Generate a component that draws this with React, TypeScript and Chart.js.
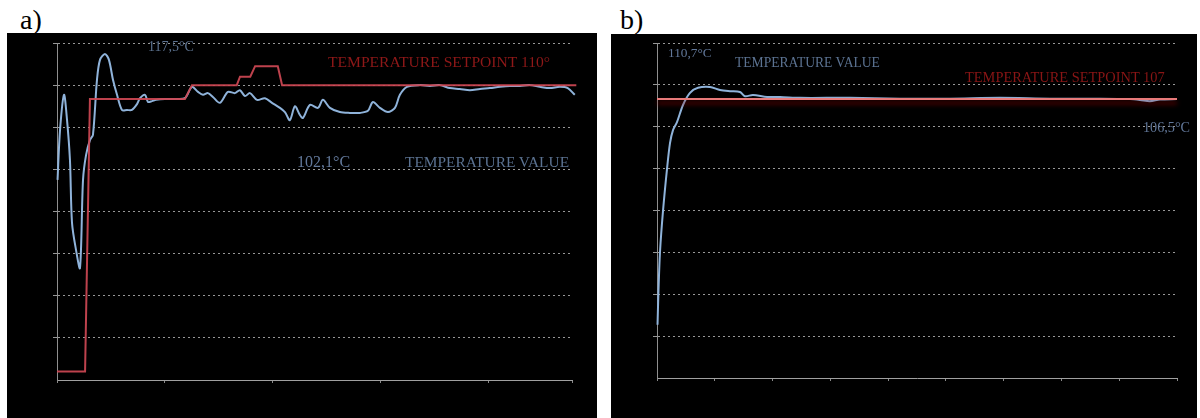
import React, { useEffect, useRef } from "react";
import { Chart, registerables } from "chart.js";

Chart.register(...registerables);

// ---------- Panel a) ----------
const aSetpointTime = [0, 26, 30.5, 118.5, 125, 166.5, 169.5, 179, 183.5, 204.5, 208.5, 481];
const aSetpointTemp = [42, 42, 106.7, 106.7, 110, 110, 112, 112, 114.5, 114.5, 110, 110];

const aValueTime = [
  0.5, 2.8, 6.5, 9.3, 12, 13.9, 17.6, 21.3, 24.1, 26.9, 30.6, 33.3, 37, 39.8, 44.4, 48.1, 51.9, 55.6,
  60.2, 64.8, 69.4, 74.1, 76.9, 81.5, 84.3, 88, 91.7, 100, 109.3, 118.5, 125, 130.6, 135.2, 139.8,
  144.4, 150.9, 158.3, 164.8, 169.4, 174.1, 178.7, 185.2, 192.6, 199.1, 206.5, 211.1, 215.7, 220.4,
  225, 227.8, 234.3, 241.7, 246.3, 252.8, 262, 271.3, 280.6, 288, 292.6, 299.1, 306.5, 313, 317.6,
  324.1, 336.1, 345.4, 354.6, 363.9, 373.1, 382.4, 391.7, 400.9, 410.2, 419.4, 428.7, 438, 447.2,
  456.5, 465.7, 473.1, 479.6,
];
const aValueTemp = [
  87.5, 99.3, 107.7, 101.7, 92.2, 77.3, 70.9, 66.6, 87.5, 93.4, 97, 98.2, 111.2, 116, 117.4, 116, 111.2, 107.7,
  104.1, 104.1, 104.1, 105.5, 106.9, 107.7, 106, 106.2, 106.5, 106.7, 106.7, 106.9, 109.6, 108.4, 107.7, 108.1,
  107.2, 105.8, 108.4, 108.1, 108.8, 107.4, 108.1, 106.5, 106.9, 105.8, 104.6, 103.6, 101.7, 105,
  102.9, 102.2, 105.3, 104.6, 106.5, 104.6, 103.6, 103.4, 103.4, 103.9, 106, 104.6, 103.6, 104.6, 107.7,
  109.6, 110, 109.8, 110, 109.3, 109.1, 108.8, 109.1, 109.3, 109.6, 109.8, 109.8, 110, 109.6,
  109.3, 109.6, 109.3, 107.7,
];

// ---------- Panel b) ----------
const bSetpointTime = [0, 900];
const bSetpointTemp = [106.6, 106.6];

const bValueTime = [
  0.9, 2.6, 5.2, 10.4, 17.3, 22.5, 27.7, 34.6, 45, 57.1, 71, 91.7, 109, 126.3, 143.6, 152.3, 166.1,
  190.4, 212.9, 247.5, 334, 420.6, 507, 593.6, 680.2, 766.7, 818.6, 836, 853.2, 870.5, 900,
];
const bValueTemp = [
  52.7, 61, 70.1, 79.9, 89.9, 96.1, 99.2, 101.1, 105.2, 108.1, 109.3, 109.5, 108.8, 108.5, 108.3, 107.3, 107.6,
  107.1, 107.1, 106.9, 106.9, 106.7, 106.7, 106.9, 106.7, 106.7, 106.6, 106.4, 106.1, 106.5, 106.6,
];

const yMin = 40;
const yMax = 120;
const yStep = 10;

const glowPlugin = {
  id: "glow",
  beforeDatasetDraw(chart: any, args: any) {
    const ds = chart.data.datasets[args.index];
    if (ds.glow) {
      const c = chart.ctx;
      c.save();
      c.shadowColor = ds.glow;
      c.shadowBlur = 5;
      c.shadowOffsetY = 4;
    }
  },
  afterDatasetDraw(chart: any, args: any) {
    const ds = chart.data.datasets[args.index];
    if (ds.glow) chart.ctx.restore();
  },
};

type Series = { x: number[]; y: number[]; color: string; width: number; tension: number; glow?: string };

function Scope(props: {
  width: number;
  height: number;
  padding: { left: number; right: number; top: number; bottom: number };
  xMax: number;
  xStep: number;
  series: Series[];
}) {
  const ref = useRef<HTMLCanvasElement>(null);
  useEffect(() => {
    const chart = new Chart(ref.current!, {
      type: "line",
      data: {
        datasets: props.series.map((s) => ({
          data: s.x.map((x, i) => ({ x, y: s.y[i] })),
          borderColor: s.color,
          borderWidth: s.width,
          pointRadius: 0,
          tension: s.tension,
          fill: false,
          clip: false,
          glow: s.glow,
        })) as any,
      },
      options: {
        animation: false,
        responsive: false,
        maintainAspectRatio: false,
        layout: { padding: props.padding },
        plugins: { legend: { display: false }, tooltip: { enabled: false }, title: { display: false } },
        scales: {
          x: {
            type: "linear",
            min: 0,
            max: props.xMax,
            ticks: { display: false, stepSize: props.xStep },
            grid: { drawOnChartArea: false, drawTicks: true, tickLength: 3, color: "#8a8a8a" },
            border: { display: true, color: "#a0a0a0", width: 1 },
          },
          y: {
            type: "linear",
            min: yMin,
            max: yMax,
            ticks: { display: false, stepSize: yStep },
            grid: {
              color: (ctx: any) => (ctx.index === 0 ? "rgba(0,0,0,0)" : "rgba(215,215,215,0.7)"),
              drawTicks: true,
              tickLength: 4,
              lineWidth: 1,
            },
            border: { display: true, color: "#8f8f8f", width: 1, dash: [2, 3] },
          },
        },
      },
      plugins: [glowPlugin],
    });
    return () => chart.destroy();
  }, []);
  return (
    <canvas
      ref={ref}
      width={props.width}
      height={props.height}
      style={{ display: "block", width: props.width, height: props.height }}
    />
  );
}

function Label(props: { x: number; y: number; size: number; color: string; text: string }) {
  return (
    <div
      style={{
        position: "absolute",
        left: props.x,
        top: props.y,
        transform: "translateY(-50%)",
        fontSize: props.size,
        lineHeight: 1,
        color: props.color,
        whiteSpace: "nowrap",
        fontFamily: '"Liberation Serif", "DejaVu Serif", serif',
      }}
    >
      {props.text}
    </div>
  );
}

export default function App() {
  return (
    <div
      style={{
        position: "absolute",
        left: 0,
        top: 0,
        width: 1200,
        height: 418,
        background: "#ffffff",
        overflow: "hidden",
        fontFamily: '"Liberation Serif", serif',
      }}
    >
      <div style={{ position: "absolute", left: 20, top: 6, fontSize: 28, lineHeight: 1, color: "#000" }}>a)</div>
      <div style={{ position: "absolute", left: 620, top: 6, fontSize: 28, lineHeight: 1, color: "#000" }}>b)</div>

      <div style={{ position: "absolute", left: 7, top: 33, width: 590, height: 385, background: "#000" }}>
        <Scope
          width={590}
          height={385}
          padding={{ left: 46, right: 25, top: 10, bottom: 35 }}
          xMax={477}
          xStep={100}
          series={[
            { x: aSetpointTime, y: aSetpointTemp, color: "rgba(206,72,84,0.92)", width: 2, tension: 0 },
            { x: aValueTime, y: aValueTemp, color: "#8fb3da", width: 2, tension: 0.3 },
          ]}
        />
      </div>

      <div style={{ position: "absolute", left: 611, top: 34, width: 586, height: 384, background: "#000" }}>
        <Scope
          width={586}
          height={384}
          padding={{ left: 42, right: 20, top: 9, bottom: 37 }}
          xMax={900}
          xStep={100}
          series={[
            { x: bSetpointTime, y: bSetpointTemp, color: "#e87a7a", width: 2, tension: 0, glow: "rgba(140,0,0,0.9)" },
            { x: bValueTime, y: bValueTemp, color: "#8fb3da", width: 2, tension: 0.3 },
          ]}
        />
      </div>

      <Label x={148} y={47} size={14} color="#5d7390" text="117,5°C" />
      <Label x={328} y={62} size={15.6} color="#8e1818" text="TEMPERATURE SETPOINT 110°" />
      <Label x={297} y={162} size={16} color="#62789a" text="102,1°C" />
      <Label x={405} y={162} size={15.4} color="#5b7291" text="TEMPERATURE VALUE" />

      <Label x={668} y={53} size={13.3} color="#62789a" text="110,7°C" />
      <Label x={735} y={63} size={13.6} color="#5b7291" text="TEMPERATURE VALUE" />
      <Label x={965} y={77} size={14.4} color="#8a1515" text="TEMPERATURE SETPOINT 107" />
      <Label x={1143} y={127} size={14.2} color="#62789a" text="106,5°C" />
    </div>
  );
}
